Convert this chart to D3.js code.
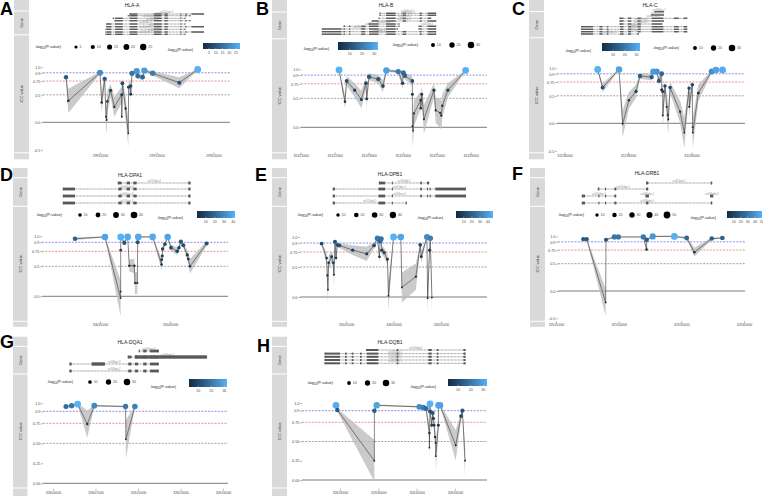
<!DOCTYPE html>
<html><head><meta charset="utf-8">
<script src="https://cdn.jsdelivr.net/npm/d3@7"></script>
<style>body{margin:0;background:#fff}svg{display:block}</style>
</head><body><svg id="c" width="763" height="496"></svg>
<script>
// ---------------- DATA ----------------
const A_gene="HLA-A", B_gene="HLA-B", C_gene="HLA-C", D_gene="HLA-DPA1", E_gene="HLA-DPB1", F_gene="HLA-DRB1", G_gene="HLA-DQA1", H_gene="HLA-DQB1";

const A_pos=[29908800,29908880,29910000,29910060,29910165,29910210,29910235,29910260,29910375,29910505,29910765,29910770,29910790,29910905,29911000,29911010,29911080,29911085,29911130,29911295,29911330,29911505,29911565,29911860,29912800,29913450];
const A_icc=[0.82,0.39,0.90,0.36,0.79,0.10,0.04,0.38,0.58,0.28,0.50,0.10,0.71,0.25,-0.20,0.64,0.66,0.51,0.89,0.93,0.84,0.82,0.94,0.89,0.72,0.96];
const A_ci=[0.03,0.22,0.02,0.2,0.06,0.22,0.25,0.2,0.12,0.18,0.15,0.25,0.1,0.2,0.25,0.12,0.1,0.15,0.04,0.02,0.05,0.05,0.02,0.04,0.1,0.01];
const A_p=[11,3,21,3,11,1,1,3,6,2,4,1,8,2,0.5,6,7,4,16,23,14,13,24,18,9,28];

const B_pos=[31322127,31322303,31322352,31322588,31322784,31322920,31322940,31323010,31323283,31323420,31323520,31323870,31323998,31324020,31324060,31324283,31324285,31324287,31324303,31324330,31324530,31324532,31324560,31324625,31324920,31324970,31325100,31325135,31325165,31325330,31325850];
const B_icc=[0.99,0.44,0.80,0.64,0.48,0.76,0.49,0.87,0.83,0.71,0.98,0.96,0.76,0.94,0.89,0.80,0.57,0.02,-0.06,0.24,0.47,0.33,0.57,0.14,0.64,0.29,0.25,0.20,0.37,0.64,0.98];
const B_ci=[0.01,0.12,0.08,0.12,0.15,0.1,0.15,0.06,0.07,0.1,0.02,0.03,0.1,0.04,0.06,0.08,0.15,0.25,0.28,0.22,0.15,0.2,0.15,0.25,0.12,0.22,0.25,0.25,0.2,0.12,0.01];
const B_p=[33,3,10,6,5,9,4,13,12,8,29,20,8,18,14,9,5,1,0.5,2,4,3,5,1,6,2,2,2,3,6,33];

const C_pos=[31237045,31237202,31237717,31237832,31238030,31238252,31238378,31238745,31238798,31238903,31238976,31239060,31239062,31239094,31239095,31239165,31239220,31239250,31239270,31239325,31239640,31239775,31239922,31239930,31240025,31240035,31240040,31240215,31240635,31240770,31240980];
const C_icc=[0.98,0.65,0.98,-0.01,0.42,0.58,0.86,0.84,0.94,0.94,0.77,0.90,0.61,0.58,0.14,0.68,0.30,0.15,0.07,0.65,0.21,-0.17,0.64,0.30,0.70,-0.07,-0.17,0.55,0.94,0.97,0.97];
const C_ci=[0.01,0.08,0.01,0.25,0.15,0.12,0.05,0.06,0.02,0.02,0.08,0.04,0.12,0.12,0.25,0.1,0.2,0.25,0.25,0.1,0.2,0.28,0.1,0.2,0.1,0.28,0.28,0.15,0.03,0.01,0.01];
const C_p=[33,10,30,1,3,6,14,13,28,27,12,16,6,5,1,7,2,1,1,7,2,0.5,7,2,8,0.5,0.5,5,25,30,32];

const D_pos=[33033215,33035357,33036470,33036474,33036478,33036482,33036740,33036975,33037095,33037450,33037500,33037666,33037690,33037737,33038760,33039403,33039405,33039450,33039475,33039640,33039831,33040070,33040520,33040640,33040783,33040950,33041235,33041307,33041426,33042616];
const D_icc=[0.96,0.99,-0.03,0.08,0.77,0.99,0.89,0.99,0.51,0.51,0.22,0.22,0.90,0.99,0.99,0.53,0.61,0.67,0.79,0.87,0.99,0.81,0.75,0.81,0.91,0.85,0.69,0.62,0.50,0.88];
const D_ci=[0.02,0.01,0.3,0.25,0.1,0.01,0.04,0.01,0.1,0.12,0.18,0.18,0.04,0.01,0.01,0.1,0.08,0.07,0.05,0.04,0.01,0.05,0.06,0.05,0.03,0.04,0.08,0.1,0.12,0.04];
const D_p=[18,38,0.5,1,5,42,14,40,4,4,2,2,14,40,40,4,5,6,9,12,38,11,9,10,15,12,7,5,4,13];

const E_pos=[33042430,33042958,33043030,33043100,33043170,33043486,33043660,33043730,33043840,33043945,33044085,33044296,33045704,33047182,33047957,33048310,33048520,33048590,33048700,33048766,33049013,33049365,33049470,33050000,33050773,33050880,33052357,33052815,33052920,33053518,33053590,33053800,33053870,33054046];
const E_icc=[0.89,0.65,0.36,0.12,0.57,0.67,0.57,0.37,0.92,0.65,0.87,0.86,0.78,0.72,0.86,0.98,0.67,0.93,0.97,0.78,0.74,0.63,0.02,1.0,1.0,0.16,0.34,0.87,0.67,1.0,-0.02,0.78,0.98,-0.01];
const E_ci=[0.02,0.1,0.2,0.25,0.12,0.1,0.12,0.2,0.03,0.1,0.04,0.04,0.08,0.12,0.05,0.01,0.1,0.02,0.01,0.07,0.08,0.1,0.25,0.01,0.01,0.25,0.22,0.04,0.1,0.01,0.25,0.07,0.01,0.25];
const E_p=[12,5,2,1,4,6,4,2,15,5,12,13,9,8,12,28,5,22,25,9,8,6,1,46,42,1,3,12,6,35,0.5,9,30,0.5];

const F_pos=[32547181,32547447,32548963,32548990,32549655,32549975,32551970,32552228,32552240,32552714,32554443,32555427,32556039,32557422,32558273];
const F_icc=[0.95,0.95,-0.21,0.94,0.99,0.99,0.99,0.76,0.94,1.0,1.0,0.97,0.71,0.96,0.97];
const F_ci=[0.01,0.01,0.25,0.02,0.01,0.01,0.01,0.05,0.02,0.01,0.01,0.02,0.08,0.02,0.01];
const F_p=[18,18,0.5,16,30,30,30,5,20,42,50,24,5,20,22];

const G_pos=[32604917,32605316,32605739,32606420,32606914,32609123,32609146,32609781];
const G_icc=[0.96,0.97,0.99,0.74,0.97,0.96,0.55,0.96];
const G_ci=[0.01,0.01,0.01,0.17,0.01,0.01,0.24,0.01];
const G_p=[18,20,32,5,24,20,3,22];

const H_pos=[32627791,32627861,32629792,32629795,32629914,32632141,32632350,32632490,32632663,32632665,32632698,32632700,32632785,32632837,32632872,32632907,32632960,32632994,32632995,32633133,32633135,32633220,32634038,32634316,32634386,32634525];
const H_icc=[0.97,0.91,0.25,0.90,0.97,0.95,0.94,0.93,0.61,0.42,0.99,0.89,0.71,0.87,0.80,0.71,0.56,0.48,0.31,0.71,0.97,0.97,0.45,0.83,0.90,0.25];
const H_ci=[0.01,0.02,0.27,0.02,0.01,0.01,0.02,0.02,0.12,0.2,0.01,0.03,0.08,0.04,0.06,0.08,0.12,0.15,0.2,0.08,0.01,0.01,0.2,0.05,0.03,0.22];
const H_p=[32,14,2,14,30,25,22,18,4,2,33,12,6,11,8,6,4,3,2,6,32,30,3,10,13,2];

// transcripts: [lane, start, end, name]; exons: [start, end]; blocks: [lane, start, end]
const A_tx=[[0,29911059,29913647,"uc021ysz.1"],[1,29911000,29913177,"uc003nsk.2"],[2,29910470,29913000,"uc003nsi.3"],[3,29910530,29913177,"uc003nsj.1"],[4,29910235,29913000,"uc003nsl.3"],[5,29910235,29913647,"uc003nsm.3"],[6,29910212,29913000,"uc010jrn.1"],[7,29910212,29913647,"uc011dmb.2"],[8,29910212,29913000,"uc003nsn.1"]];
const A_exons=[[29910247,29910403],[29910534,29910803],[29911045,29911320],[29911899,29912174],[29912277,29912393],[29912836,29912868],[29913011,29913058],[29913228,29913661]];
const B_tx=[[0,31323332,31324969,"uc003nuh.1"],[1,31323332,31324969,"uc021yws.1"],[2,31323303,31324822,"uc003ntn.1"],[3,31323107,31324969,"uc003ntm.1"],[4,31323009,31323891,"uc003ntk.1"],[5,31322274,31323891,"uc003nti.2"],[5,31324480,31324969,"uc003ntj.2"],[6,31321637,31323842,"uc010jsd.2"],[6,31324480,31324969,""],[7,31321637,31324969,"uc003nth.3"],[8,31321637,31324969,"uc011dnd.1"]];
const B_exons=[[31321649,31322200],[31322260,31322300],[31322420,31322460],[31322780,31322900],[31323010,31323290],[31323510,31323790],[31324000,31324100],[31324500,31324560],[31324730,31324989]];
const C_tx=[[0,31238850,31239113,"uc003nta.1"],[1,31238745,31239113,"uc021ysj.1"],[2,31237748,31239848,"uc003nsz.3"],[3,31237748,31239113,"uc003nsy.1"],[4,31237748,31239060,"uc003nsx.3"],[5,31236540,31239848,"uc003nsw.3"],[6,31236540,31239848,"uc010jsc.3"],[7,31236540,31239848,"uc003nsv.3"],[8,31236540,31238325,"uc011dnc.1"]];
const C_exons=[[31236526,31236900],[31237100,31237200],[31237330,31237380],[31237750,31237860],[31238000,31238100],[31238300,31238400],[31238745,31239113],[31239450,31239600],[31239750,31239907]];
const D_tx=[[0,33036309,33041426,"uc011dya.3"],[1,33032382,33041426,"uc003ocm.3"],[2,33032382,33041426,"uc003ocn.3"],[3,33032382,33041426,"uc010jux.1"]];
const D_exons=[[33032382,33033215],[33036309,33036547],[33036904,33037142],[33037380,33037618],[33041307,33041426]];
const E_tx=[[0,33048520,33053694,"uc011dyb.1"],[1,33043662,33057566,"uc011dyc.2"],[2,33043662,33057566,"uc003ocu.2"],[3,33043662,33051336,"uc011dyd.1"]];
const E_exons=[[33043662,33043838],[33048414,33049118],[33049822,33049928],[33052814,33052990],[33053518,33053588],[33053800,33053870],[33054398,33057566]];
const F_tx=[[0,32552235,32557422,"uc021yzo.1"],[1,32548378,32552315,"uc011dqo.1"],[2,32547101,32549761,"uc011dqn.1"],[2,32552182,32552368,"uc003obs.1"],[2,32557342,32557502,"uc003obk.4"],[3,32547101,32557422,"uc003obp.4"]];
const F_exons=[[32547101,32547314],[32548378,32548458],[32548910,32548990],[32549655,32549815],[32552182,32552368],[32557342,32557502]];
const G_tx=[[0,32610087,32611426,"uc003ppy.3"],[1,32609311,32614834,"uc003pph.1"],[2,32605199,32611426,"uc003ppi.3"],[3,32605199,32611426,"uc003ppj.2"]];
const G_exons=[[32605199,32605316],[32609311,32609546],[32609781,32610016],[32610370,32610605],[32610840,32611426]];
const G_blocks=[[1,32609781,32614834],[2,32606726,32607666]];
const H_tx=[[0,32629392,32634525,"uc011dqq.2"],[1,32627217,32634525,"uc003opu.2"],[2,32627217,32634525,"uc003opw.3"],[3,32627217,32634525,"uc010jut.1"],[4,32627217,32634525,"uc003opv.1"]];
const H_exons=[[32627217,32628000],[32628261,32628348],[32628609,32628696],[32629044,32629131],[32629392,32630001],[32630958,32631045],[32632611,32632785],[32633046,32633133],[32634438,32634525]];

// axis ticks
const A_xticks=[29910000,29912000,29914000];
const B_xticks=[31321000,31322000,31323000,31324000,31325000,31326000];
const C_xticks=[31236000,31238000,31240000];
const D_xticks=[33035000,33040000];
const E_xticks=[33045000,33050000,33055000];
const F_xticks=[32545000,32550000,32555000,32560000];
const G_xticks=[32604000,32607000,32610000,32613000,32616000];
const H_xticks=[32628000,32630000,32632000,32634000];
const Y6_ticks=[1.0,0.9,0.75,0.5,0.0,-0.5], Y6_labels=["1.0","0.9","0.75","0.5","0.0","-0.5"];
const Y5_ticks=[1.0,0.9,0.75,0.5,0.0], Y5_labels=["1.0","0.9","0.75","0.5","0.0"];
const YQ_ticks=[1.0,0.9,0.75,0.5,0.25,0.0], YQ_labels=["1.0","0.9","0.75","0.50","0.25","0.00"];
const refValues=[0.9,0.75,0.5,0.0];
const A_breaks=[5,10,15,20,25], B_breaks=[10,20,30], C_breaks=[10,20,30], D_breaks=[10,20,30,40], E_breaks=[10,20,30,40], F_breaks=[10,20,30,40,50], G_breaks=[10,20,30], H_breaks=[10,20,30];

// ---------------- LAYOUT ----------------
const R2=[[168,177.2],[178.2,205.8],[206.8,320.8],[321.8,326.8]];
const R3=[[336.7,345.8],[346.8,373.5],[374.5,487.5],[488.5,496]];
const panels=[
 {id:"A",gene:A_gene,pos:A_pos,icc:A_icc,ci:A_ci,p:A_p,tx:A_tx,ex:A_exons,bl:[],xt:A_xticks,yt:Y6_ticks,yl:Y6_labels,br:A_breaks,
  L:{letter:[0,15],strip:[14,29],segs:[[0,10.5],[11.5,34.3],[35.3,152.3],[153.3,159.3]],title:[132,5],rows:[14,15.7,18.3,20.7,24,26.7,29.3,32,34.3],exH:1.4,xcal:[100,213.3],ycal:[122.3,67.3],px:[43,230],axisY:152.6,size:{tx:35,ty:47,d0:76,step:16.8},col:{tx:167,ty:50,b:[203,240,43,49]}}},
 {id:"B",gene:B_gene,pos:B_pos,icc:B_icc,ci:B_ci,p:B_p,tx:B_tx,ex:B_exons,bl:[],xt:B_xticks,yt:Y5_ticks,yl:Y5_labels,br:B_breaks,
  L:{letter:[256,15],strip:[272,287],segs:[[0,11.5],[12.5,38.3],[39.3,152.3],[153.3,159.3]],title:[386,5],rows:[13.3,15.3,18.3,21,24,26.3,29,31.7,34.2],exH:1.4,xcal:[300.7,470.7],ycal:[127.3,69.3],px:[301,487],axisY:152.6,size:{tx:392,ty:45,d0:433,step:19},col:{tx:303,ty:49,b:[338,378,42,50]}}},
 {id:"C",gene:C_gene,pos:C_pos,icc:C_icc,ci:C_ci,p:C_p,tx:C_tx,ex:C_exons,bl:[],xt:C_xticks,yt:Y6_ticks,yl:Y6_labels,br:C_breaks,
  L:{letter:[512,15],strip:[529,544],segs:[[0,11],[12,37.3],[38.3,152.3],[153.3,159.3]],title:[650,5],rows:[11.7,15,18.3,21,24,26.7,29.3,31.7,34],exH:1.4,xcal:[564.5,691.5],ycal:[123.3,68.3],px:[557,745],axisY:152.6,size:{tx:653,ty:48,d0:695,step:18.5},col:{tx:565,ty:51,b:[602,640,43,51]}}},
 {id:"D",gene:D_gene,pos:D_pos,icc:D_icc,ci:D_ci,p:D_p,tx:D_tx,ex:D_exons,bl:[],xt:D_xticks,yt:Y5_ticks,yl:Y5_labels,br:D_breaks,
  L:{letter:[0,181],strip:[13,27.5],segs:R2,title:[130,175],rows:[183,189,196,203],exH:2.8,xcal:[100,170],ycal:[296.3,236.3],px:[42,228],axisY:321.4,size:{tx:36,ty:215,d0:80,step:18},col:{tx:157,ty:218,b:[197,235,211,218]}}},
 {id:"E",gene:E_gene,pos:E_pos,icc:E_icc,ci:E_ci,p:E_p,tx:E_tx,ex:E_exons,bl:[],xt:E_xticks,yt:Y5_ticks,yl:Y5_labels,br:E_breaks,
  L:{letter:[255,181],strip:[272,287],segs:R2,title:[390,174],rows:[183,189,196,203],exH:2.8,xcal:[346,441],ycal:[297,237],px:[300,487],axisY:321.4,size:{tx:297,ty:215,d0:338,step:18.3},col:{tx:417,ty:218,b:[456,493,211,218]}}},
 {id:"F",gene:F_gene,pos:F_pos,icc:F_icc,ci:F_ci,p:F_p,tx:F_tx,ex:F_exons,bl:[],xt:F_xticks,yt:Y6_ticks,yl:Y6_labels,br:F_breaks,
  L:{letter:[512,180],strip:[530,545],segs:R2,title:[647,173.5],rows:[183,189,196,203],exH:2.8,xcal:[556,744],ycal:[291,236.4],px:[558,745],axisY:321.4,size:{tx:558,ty:215,d0:597,step:17.5},col:{tx:690,ty:218,b:[727,762,211,218]}}},
 {id:"G",gene:G_gene,pos:G_pos,icc:G_icc,ci:G_ci,p:G_p,tx:G_tx,ex:G_exons,bl:G_blocks,xt:G_xticks,yt:YQ_ticks,yl:YQ_labels,br:G_breaks,
  L:{letter:[0,348],strip:[13,27.5],segs:R3,title:[130,342],rows:[351,357,364,371],exH:2.8,xcal:[53,223],ycal:[483.3,403.3],px:[43,228],axisY:488.8,size:{tx:47,ty:382,d0:90,step:18.5},col:{tx:150,ty:387,b:[189,227,379,387]}}},
 {id:"H",gene:H_gene,pos:H_pos,icc:H_icc,ci:H_ci,p:H_p,tx:H_tx,ex:H_exons,bl:[],xt:H_xticks,yt:YQ_ticks,yl:YQ_labels,br:H_breaks,
  L:{letter:[257,352],strip:[272,287],segs:R3,title:[390,342],rows:[350,353.6,356.8,360,363.3],exH:2.0,xcal:[340,455],ycal:[480,403],px:[302,487],axisY:488.8,size:{tx:307,ty:383,d0:349,step:18.5},col:{tx:410,ty:387,b:[448,487,379,386]}}}
];

// ---------------- DRAW ----------------
const FONT='"Liberation Sans", Arial, sans-serif';
const svg=d3.select("#c").attr("font-family",FONT);
const defs=svg.append("defs");
const LO="#132B43", HI="#56B1F7";
const refStyle=[["#5c5ce0","2,1.3",0.7],["#e06262","2,1.3",0.7],["#7a7a7a","2,1.3",0.7],["#5a5a5a",null,0.8]];

function legendTitle(g,x,y){
  const t=g.append("text").attr("x",x).attr("y",y+1.4).attr("font-size",4).attr("fill","#222");
  t.append("tspan").text("-log");
  t.append("tspan").attr("font-size",2.8).attr("dy",1).text("10");
  t.append("tspan").attr("dy",-1).text("(P-value)");
}

panels.forEach(P=>{
  const L=P.L, g=svg.append("g");
  g.append("text").attr("x",L.letter[0]).attr("y",L.letter[1]).attr("font-size",18).attr("font-weight","bold").attr("fill","#000").text(P.id);
  const stripLabels=["","Gene","ICC value",""];
  L.segs.forEach((s,i)=>{
    g.append("rect").attr("x",L.strip[0]).attr("y",s[0]).attr("width",L.strip[1]-L.strip[0]).attr("height",s[1]-s[0]).attr("fill","#d9d9d9");
    if(stripLabels[i]) g.append("text").attr("transform",`translate(${(L.strip[0]+L.strip[1])/2+1.4},${(s[0]+s[1])/2}) rotate(-90)`)
      .attr("text-anchor","middle").attr("font-size",4).attr("fill","#333").text(stripLabels[i]);
  });
  const x=d3.scaleLinear().domain([P.xt[0],P.xt[P.xt.length-1]]).range(L.xcal);
  const y=d3.scaleLinear().domain([0,1]).range(L.ycal);
  const pmin=d3.min(P.p), pmax=d3.max(P.p);
  const col=d3.scaleLinear().domain([pmin,pmax]).range([LO,HI]).interpolate(d3.interpolateLab);
  const area=d3.scaleLinear().domain([pmin,pmax]).range([0.8,11.5]);
  const rad=v=>Math.sqrt(Math.max(0.5,area(v)));
  g.append("text").attr("x",L.title[0]).attr("y",L.title[1]+1.8).attr("text-anchor","middle").attr("font-size",5).attr("fill","#222").text(P.gene);
  // gene tracks
  const tg=g.append("g");
  P.tx.forEach(t=>{
    const [lane,s,e,name]=t, yy=L.rows[lane], h=L.exH;
    tg.append("line").attr("x1",x(s)).attr("x2",x(e)).attr("y1",yy).attr("y2",yy).attr("stroke","#444").attr("stroke-width",0.55).attr("stroke-dasharray","0.9,0.5");
    P.ex.forEach(ex=>{
      const a=Math.max(s,ex[0]), b=Math.min(e,ex[1]);
      if(b>a){ const w=Math.max(1.1,x(b)-x(a)); tg.append("rect").attr("x",x(a)).attr("y",yy-h/2).attr("width",w).attr("height",h).attr("fill","#595959"); }
    });
    [s,e].forEach(v=>tg.append("rect").attr("x",x(v)-0.6).attr("y",yy-h/2).attr("width",1.2).attr("height",h).attr("fill","#595959"));
    if(name) tg.append("text").attr("x",x((s+e)/2)).attr("y",yy-0.9).attr("text-anchor","middle").attr("font-size",2.6).attr("fill","#8c8c8c").text(name);
  });
  P.bl.forEach(b=>{
    const yy=L.rows[b[0]], h=L.exH+0.6;
    tg.append("rect").attr("x",x(b[1])).attr("y",yy-h/2).attr("width",x(b[2])-x(b[1])).attr("height",h).attr("fill","#595959");
  });
  // size legend
  const S=L.size;
  legendTitle(g,S.tx,S.ty);
  P.br.forEach((b,i)=>{
    const cx=S.d0+i*S.step;
    g.append("circle").attr("cx",cx).attr("cy",S.ty).attr("r",rad(b)).attr("fill","#000");
    g.append("text").attr("x",cx+rad(b)+1.8).attr("y",S.ty+1.3).attr("font-size",3.6).attr("fill","#4d4d4d").text(b);
  });
  // colour legend
  const C=L.col, gid="grad"+P.id;
  const gr=defs.append("linearGradient").attr("id",gid);
  d3.range(11).forEach(k=>gr.append("stop").attr("offset",k/10).attr("stop-color",col(pmin+(pmax-pmin)*k/10)));
  legendTitle(g,C.tx,C.ty);
  g.append("rect").attr("x",C.b[0]).attr("y",C.b[2]).attr("width",C.b[1]-C.b[0]).attr("height",C.b[3]-C.b[2]).attr("fill",`url(#${gid})`);
  const cb=d3.scaleLinear().domain([pmin,pmax]).range([C.b[0],C.b[1]]);
  P.br.filter(b=>b>=pmin&&b<=pmax).forEach(b=>{
    g.append("line").attr("x1",cb(b)).attr("x2",cb(b)).attr("y1",C.b[3]-1.2).attr("y2",C.b[3]).attr("stroke","#fff").attr("stroke-width",0.4);
    g.append("text").attr("x",cb(b)).attr("y",C.b[3]+4.6).attr("text-anchor","middle").attr("font-size",3.6).attr("fill","#4d4d4d").text(b);
  });
  // reference lines
  refValues.forEach((v,i)=>{
    const st=refStyle[i];
    const ln=g.append("line").attr("x1",L.px[0]).attr("x2",L.px[1]).attr("y1",y(v)).attr("y2",y(v)).attr("stroke",st[0]).attr("stroke-width",st[2]);
    if(st[1]) ln.attr("stroke-dasharray",st[1]);
  });
  // axes
  const gx=g.append("g").attr("transform",`translate(0,${L.axisY})`)
    .call(d3.axisBottom(x).tickValues(P.xt).tickSize(1.8).tickPadding(0.6).tickFormat(d3.format("d")));
  gx.select(".domain").remove();
  gx.selectAll("line").attr("stroke","#333").attr("stroke-width",0.4);
  gx.selectAll("text").attr("font-size",3.5).attr("fill","#4d4d4d").attr("font-family",FONT);
  const gy=g.append("g").attr("transform",`translate(${L.px[0]},0)`)
    .call(d3.axisLeft(y).tickValues(P.yt).tickSize(1.8).tickPadding(0.8).tickFormat((d,i)=>P.yl[i]));
  gy.select(".domain").remove();
  gy.selectAll("line").attr("stroke","#333").attr("stroke-width",0.4);
  gy.selectAll("text").attr("font-size",3.8).attr("fill","#4d4d4d").attr("font-family",FONT);
  // ribbon, line, points
  const idx=d3.range(P.pos.length);
  g.append("path").attr("d",d3.area().x(i=>x(P.pos[i])).y0(i=>y(P.icc[i]-P.ci[i])).y1(i=>y(P.icc[i]+P.ci[i]))(idx))
    .attr("fill","#bdbdbd").attr("opacity",0.8);
  g.append("path").attr("d",d3.line().x(i=>x(P.pos[i])).y(i=>y(P.icc[i]))(idx))
    .attr("fill","none").attr("stroke","#2b2b2b").attr("stroke-width",0.55);
  g.selectAll("circle.pt").data(idx).join("circle").attr("class","pt")
    .attr("cx",i=>x(P.pos[i])).attr("cy",i=>y(P.icc[i])).attr("r",i=>rad(P.p[i])).attr("fill",i=>col(P.p[i]));
});
</script></body></html>
